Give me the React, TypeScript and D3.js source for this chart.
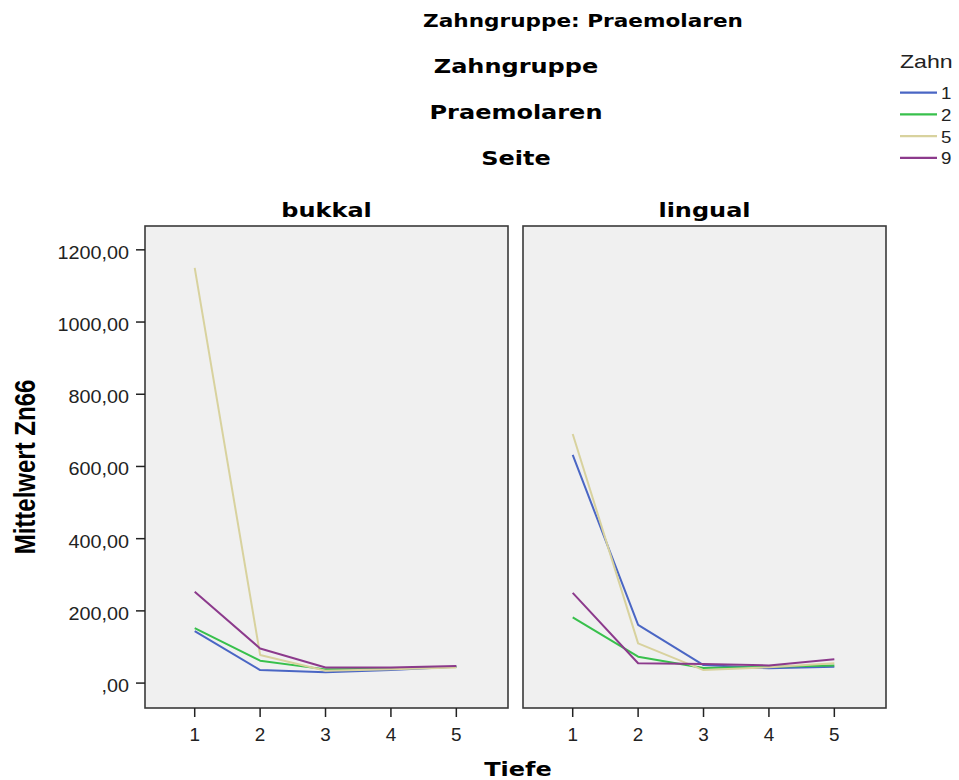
import React from "react";
import * as d3 from "d3";

const tiefe = [1, 2, 3, 4, 5];
const zahnLabels = ["1", "2", "5", "9"];
const zahnColors = ["#4a66c4", "#38c04c", "#d8d29e", "#8c3a8c"];
const seiten = ["bukkal", "lingual"];

// Mittelwert Zn66 je Zahn, Tiefe 1..5
const bukkal1 = [144, 36, 30, 36, 45];
const bukkal2 = [152, 62, 38, 40, 45];
const bukkal5 = [1150, 78, 34, 38, 43];
const bukkal9 = [253, 96, 43, 43, 47];
const lingual1 = [632, 161, 50, 41, 45];
const lingual2 = [182, 73, 42, 45, 49];
const lingual5 = [690, 110, 36, 44, 55];
const lingual9 = [250, 55, 53, 49, 66];

const yTicks = [0, 200, 400, 600, 800, 1000, 1200];

const seriesBySeite = [
  [bukkal1, bukkal2, bukkal5, bukkal9],
  [lingual1, lingual2, lingual5, lingual9],
];

const WIDE = "'DejaVu Sans', Verdana, sans-serif";
const ARIAL = "'Liberation Sans', Arial, sans-serif";

const fmt = (v: number) => (v === 0 ? ",00" : v.toFixed(2).replace(".", ","));

function T(props: {
  x: number;
  y: number;
  size: number;
  sx?: number;
  font?: string;
  bold?: boolean;
  anchor?: string;
  fill?: string;
  children: React.ReactNode;
}) {
  const { x, y, size, sx, font, bold, anchor, fill, children } = props;
  return (
    <text
      transform={`translate(${x},${y}) scale(${sx || 1.2},1)`}
      fontFamily={font || WIDE}
      fontSize={size}
      fontWeight={bold ? "bold" : "normal"}
      textAnchor={anchor || "start"}
      fill={fill || "#000"}
    >
      {children}
    </text>
  );
}

export default function App() {
  const width = 959;
  const height = 780;
  const panels = [
    { x0: 145, x1: 508 },
    { x0: 523, x1: 886 },
  ];
  const top = 226;
  const bottom = 708;

  const y = d3.scaleLinear().domain([-69, 1266]).range([bottom, top]);

  return (
    <svg
      width={width}
      height={height}
      style={{ position: "absolute", left: 0, top: 0, background: "#fff" }}
    >
      <T x={583} y={27} size={18} bold anchor="middle">Zahngruppe: Praemolaren</T>
      <T x={516} y={73} size={20} bold anchor="middle">Zahngruppe</T>
      <T x={516} y={119} size={20} bold anchor="middle">Praemolaren</T>
      <T x={516} y={165} size={20} bold anchor="middle">Seite</T>

      {panels.map((p, pi) => {
        const x = d3.scaleLinear().domain([0.24, 5.79]).range([p.x0, p.x1]);
        const line = d3
          .line<number>()
          .x((_, i) => x(tiefe[i]))
          .y((d) => y(d));
        return (
          <g key={pi}>
            <T x={(p.x0 + p.x1) / 2} y={217} size={20} bold anchor="middle">
              {seiten[pi]}
            </T>
            <rect
              x={p.x0}
              y={top}
              width={p.x1 - p.x0}
              height={bottom - top}
              fill="#f0f0f0"
              stroke="#3a3a3a"
              strokeWidth={1.6}
            />
            {seriesBySeite[pi].map((vals, si) => (
              <path
                key={si}
                d={line(vals) || ""}
                fill="none"
                stroke={zahnColors[si]}
                strokeWidth={2}
                strokeLinejoin="round"
              />
            ))}
            {tiefe.map((t) => (
              <g key={t}>
                <line x1={x(t)} x2={x(t)} y1={bottom} y2={bottom + 9} stroke="#222" strokeWidth={1.5} />
                <T x={x(t)} y={741} size={18} sx={1.05} font={ARIAL} fill="#222" anchor="middle">{t}</T>
              </g>
            ))}
          </g>
        );
      })}

      {yTicks.map((v) => (
        <g key={v}>
          <line x1={136} x2={145} y1={y(v)} y2={y(v)} stroke="#222" strokeWidth={1.5} />
          <T x={129} y={y(v) + 9} size={18} sx={1.1} font={ARIAL} fill="#222" anchor="end">{fmt(v)}</T>
        </g>
      ))}

      <text
        transform={`translate(35,467) scale(1.2,1) rotate(-90)`}
        fontFamily={ARIAL}
        fontSize={24}
        fontWeight="bold"
        textAnchor="middle"
      >
        Mittelwert Zn66
      </text>

      <T x={518} y={776} size={20} bold anchor="middle">Tiefe</T>

      <T x={900} y={68} size={18.5} sx={1.25} font={ARIAL} fill="#222">Zahn</T>
      {zahnLabels.map((lab, i) => (
        <g key={lab}>
          <line
            x1={900}
            x2={937}
            y1={92.7 + i * 21.7}
            y2={92.7 + i * 21.7}
            stroke={zahnColors[i]}
            strokeWidth={2.2}
          />
          <T x={941} y={92.7 + i * 21.7 + 6.5} size={17} sx={1.1} font={ARIAL} fill="#222">{lab}</T>
        </g>
      ))}
    </svg>
  );
}
